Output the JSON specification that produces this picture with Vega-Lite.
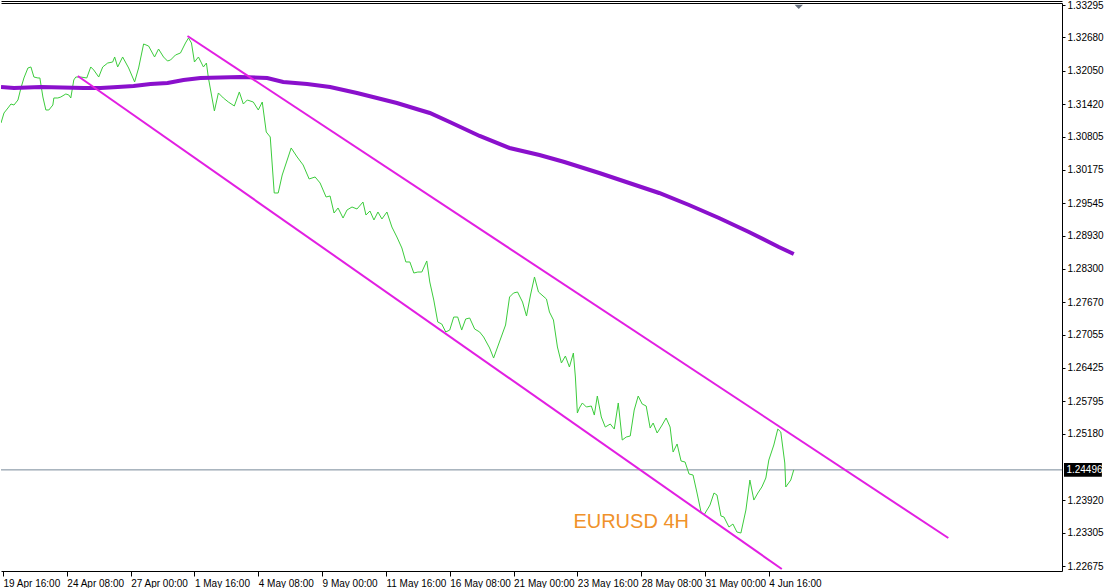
{
  "$schema": "https://vega.github.io/schema/vega-lite/v6.json",
  "width": 1104,
  "height": 588,
  "autosize": {"type": "fit", "contains": "padding"},
  "padding": {"left": 0, "top": 0, "right": 0, "bottom": 0},
  "background": "white",
  "config": {
    "view": {"stroke": null},
    "axis": {"grid": false, "domainColor": "#000000", "tickColor": "#000000", "labelColor": "#000000", "labelFont": "Liberation Sans", "labelFontSize": 10, "domainWidth": 1, "tickWidth": 1, "labelOverlap": false}
  },
  "datasets": {
    "price": [
      {"bar":-0.5,"price":1.31062},{"bar":0.25,"price":1.31251},{"bar":1.25,"price":1.31346},{"bar":2,"price":1.31421},{"bar":2.75,"price":1.31402},{"bar":3.75,"price":1.31497},{"bar":4.5,"price":1.31724},{"bar":5.25,"price":1.31914},{"bar":6.25,"price":1.32103},{"bar":7,"price":1.32122},{"bar":7.75,"price":1.31932},{"bar":8.75,"price":1.31914},{"bar":9.25,"price":1.31914},{"bar":10,"price":1.31554},{"bar":10.75,"price":1.31308},{"bar":11.5,"price":1.31308},{"bar":12.5,"price":1.31402},{"bar":12.75,"price":1.31535},{"bar":13.75,"price":1.31535},{"bar":14.5,"price":1.31554},{"bar":15.75,"price":1.31611},{"bar":16.5,"price":1.31592},{"bar":17,"price":1.31535},{"bar":17.75,"price":1.31876},{"bar":18.25,"price":1.31932},{"bar":19.5,"price":1.31932},{"bar":21,"price":1.31914},{"bar":22,"price":1.32122},{"bar":22.75,"price":1.32065},{"bar":24,"price":1.31932},{"bar":25,"price":1.32122},{"bar":26.25,"price":1.32197},{"bar":27.5,"price":1.32216},{"bar":28,"price":1.32311},{"bar":28.75,"price":1.32122},{"bar":30,"price":1.32311},{"bar":31.5,"price":1.32103},{"bar":33,"price":1.31838},{"bar":34,"price":1.32103},{"bar":35.25,"price":1.32557},{"bar":36.5,"price":1.32519},{"bar":38,"price":1.32311},{"bar":39,"price":1.32462},{"bar":40.25,"price":1.32311},{"bar":41.25,"price":1.32235},{"bar":42,"price":1.32254},{"bar":43.25,"price":1.32349},{"bar":44.5,"price":1.32387},{"bar":45.75,"price":1.32576},{"bar":46.5,"price":1.32671},{"bar":47.25,"price":1.32576},{"bar":48,"price":1.32216},{"bar":49,"price":1.32311},{"bar":50.25,"price":1.32122},{"bar":51,"price":1.32197},{"bar":51.5,"price":1.31914},{"bar":53,"price":1.31289},{"bar":54,"price":1.3163},{"bar":55.25,"price":1.31535},{"bar":56.5,"price":1.31459},{"bar":58,"price":1.31384},{"bar":59.25,"price":1.31649},{"bar":60.25,"price":1.31421},{"bar":61.25,"price":1.31497},{"bar":62.75,"price":1.31459},{"bar":64,"price":1.31308},{"bar":65,"price":1.31459},{"bar":66,"price":1.30891},{"bar":67,"price":1.30797},{"bar":68,"price":1.29737},{"bar":69,"price":1.29737},{"bar":70,"price":1.30077},{"bar":72.25,"price":1.30589},{"bar":73.75,"price":1.30418},{"bar":75.25,"price":1.30267},{"bar":76.75,"price":1.30002},{"bar":78.25,"price":1.3004},{"bar":79.5,"price":1.29926},{"bar":81,"price":1.29661},{"bar":82,"price":1.2968},{"bar":83,"price":1.29358},{"bar":84,"price":1.29453},{"bar":85.25,"price":1.29263},{"bar":86.25,"price":1.29415},{"bar":87.5,"price":1.29472},{"bar":88.75,"price":1.29434},{"bar":90.25,"price":1.29566},{"bar":91,"price":1.2932},{"bar":92,"price":1.29396},{"bar":93,"price":1.29226},{"bar":94,"price":1.29377},{"bar":95,"price":1.29245},{"bar":96.25,"price":1.29377},{"bar":97.5,"price":1.29093},{"bar":98.75,"price":1.28904},{"bar":100,"price":1.28696},{"bar":101,"price":1.28431},{"bar":102,"price":1.28431},{"bar":103,"price":1.28222},{"bar":104,"price":1.28241},{"bar":105,"price":1.28241},{"bar":106.25,"price":1.2845},{"bar":107,"price":1.28052},{"bar":108,"price":1.27711},{"bar":109,"price":1.27295},{"bar":110,"price":1.27257},{"bar":111,"price":1.27106},{"bar":112,"price":1.27143},{"bar":113,"price":1.27389},{"bar":114,"price":1.27389},{"bar":115,"price":1.27143},{"bar":116,"price":1.27352},{"bar":117,"price":1.27371},{"bar":118.25,"price":1.27162},{"bar":119.5,"price":1.27106},{"bar":120.5,"price":1.27011},{"bar":122,"price":1.26803},{"bar":123,"price":1.26613},{"bar":124,"price":1.26822},{"bar":126,"price":1.27238},{"bar":127,"price":1.27768},{"bar":128,"price":1.27844},{"bar":129,"price":1.27863},{"bar":130.25,"price":1.27673},{"bar":131.25,"price":1.27408},{"bar":132.25,"price":1.27806},{"bar":133.25,"price":1.28147},{"bar":134.25,"price":1.27863},{"bar":136.25,"price":1.2773},{"bar":137,"price":1.27484},{"bar":138,"price":1.27333},{"bar":139,"price":1.26822},{"bar":140,"price":1.26519},{"bar":141,"price":1.26651},{"bar":142,"price":1.26443},{"bar":143,"price":1.26708},{"bar":143.5,"price":1.26254},{"bar":144,"price":1.25572},{"bar":144.5,"price":1.25667},{"bar":145.25,"price":1.25762},{"bar":146.25,"price":1.25686},{"bar":147.5,"price":1.25705},{"bar":148.25,"price":1.25534},{"bar":149,"price":1.25894},{"bar":150,"price":1.25497},{"bar":151,"price":1.25307},{"bar":152.25,"price":1.25364},{"bar":153.25,"price":1.25269},{"bar":154.25,"price":1.25762},{"bar":155.25,"price":1.25061},{"bar":156.25,"price":1.25118},{"bar":157.25,"price":1.25137},{"bar":158.25,"price":1.25629},{"bar":159.25,"price":1.25894},{"bar":160.25,"price":1.25743},{"bar":161.25,"price":1.25705},{"bar":162.25,"price":1.25288},{"bar":163,"price":1.25383},{"bar":164,"price":1.25194},{"bar":165.25,"price":1.25345},{"bar":166.25,"price":1.25478},{"bar":167.25,"price":1.25307},{"bar":168,"price":1.24834},{"bar":169,"price":1.24986},{"bar":170,"price":1.24664},{"bar":171,"price":1.24645},{"bar":172,"price":1.24418},{"bar":173,"price":1.24399},{"bar":174,"price":1.24058},{"bar":175,"price":1.23698},{"bar":175.75,"price":1.23642},{"bar":177.25,"price":1.23831},{"bar":178.25,"price":1.24058},{"bar":179,"price":1.2402},{"bar":180,"price":1.23623},{"bar":180.75,"price":1.23604},{"bar":182,"price":1.23414},{"bar":183,"price":1.23471},{"bar":184,"price":1.2332},{"bar":185,"price":1.23301},{"bar":186.25,"price":1.23736},{"bar":187.25,"price":1.24304},{"bar":188.25,"price":1.23925},{"bar":189.25,"price":1.24058},{"bar":190.25,"price":1.24172},{"bar":191.25,"price":1.24342},{"bar":192,"price":1.24683},{"bar":193.25,"price":1.24967},{"bar":194.25,"price":1.25269},{"bar":195,"price":1.25213},{"bar":196,"price":1.24626},{"bar":196.25,"price":1.24172},{"bar":197.5,"price":1.24304},{"bar":198.25,"price":1.24496}
    ],
    "ma": [
      {"bar":-0.5,"ma":1.31743},{"bar":2.75,"ma":1.31724},{"bar":9.5,"ma":1.31743},{"bar":20.25,"ma":1.31724},{"bar":24.5,"ma":1.31724},{"bar":28.75,"ma":1.31743},{"bar":32.75,"ma":1.31762},{"bar":37,"ma":1.318},{"bar":41.25,"ma":1.31819},{"bar":45.25,"ma":1.31876},{"bar":49.5,"ma":1.31914},{"bar":59.5,"ma":1.31932},{"bar":66.25,"ma":1.31914},{"bar":70.25,"ma":1.31838},{"bar":76.25,"ma":1.318},{"bar":82,"ma":1.31743},{"bar":88.75,"ma":1.3163},{"bar":93.75,"ma":1.31535},{"bar":98.75,"ma":1.3144},{"bar":104.5,"ma":1.31308},{"bar":107,"ma":1.31251},{"bar":112,"ma":1.31081},{"bar":119.5,"ma":1.30816},{"bar":127,"ma":1.30589},{"bar":134.5,"ma":1.30456},{"bar":140.75,"ma":1.30324},{"bar":149.5,"ma":1.30115},{"bar":157,"ma":1.29926},{"bar":164.5,"ma":1.29737},{"bar":172,"ma":1.2951},{"bar":179.5,"ma":1.29263},{"bar":187,"ma":1.28998},{"bar":194.5,"ma":1.28715},{"bar":198.25,"ma":1.28582}
    ],
    "channel": [
      {"line":"upper","bar":46.25,"price":1.32709},{"line":"upper","bar":237,"price":1.23206},
      {"line":"lower","bar":18.75,"price":1.31951},{"line":"lower","bar":195.25,"price":1.22619}
    ],
    "current": [{"price":1.24496}],
    "caption": [{"label":"EURUSD 4H","bar":143,"price":1.23395}]
  },
  "layer": [
    {
      "data": {"name": "current"},
      "mark": {"type": "rule", "color": "#778899", "strokeWidth": 1},
      "encoding": {
        "y": {"field": "price", "type": "quantitative", "title": null,
          "scale": {"domain": [1.22582, 1.33333], "nice": false, "zero": false}}
      }
    },
    {
      "data": {"name": "price"},
      "mark": {"type": "line", "color": "#3ccc3c", "strokeWidth": 1, "clip": true},
      "encoding": {
        "x": {"field": "bar", "type": "quantitative", "title": null,
          "scale": {"domain": [-0.5, 265.5], "nice": false, "zero": false},
          "axis": {"orient": "bottom", "values": [0,16,32,48,64,80,96,112,128,144,160,176,192], "tickCount": 40, "labelExpr": "['19 Apr 16:00','24 Apr 08:00','27 Apr 00:00','1 May 16:00','4 May 08:00','9 May 00:00','11 May 16:00','16 May 08:00','21 May 00:00','23 May 16:00','28 May 08:00','31 May 00:00','4 Jun 16:00'][round(datum.value/16)]", "tickSize": 5, "labelAlign": "left", "labelBaseline": "top", "labelPadding": 2, "labelDx": 1, "labelFlush": false, "labelOverlap": false}},
        "y": {"field": "price", "type": "quantitative", "title": null,
          "scale": {"domain": [1.22582, 1.33333], "nice": false, "zero": false},
          "axis": {"orient": "right", "values": [1.33295,1.3268,1.3205,1.3142,1.30805,1.30175,1.29545,1.2893,1.283,1.2767,1.27055,1.26425,1.25795,1.2518,1.2392,1.23305,1.22675], "tickCount": 40, "format": ".5f", "tickSize": 3, "labelPadding": 2, "labelBaseline": "middle", "labelOverlap": false, "labelFlush": false, "grid": false}}
      }
    },
    {
      "data": {"name": "ma"},
      "mark": {"type": "line", "color": "#8a10cc", "strokeWidth": 4, "clip": true},
      "encoding": {
        "x": {"field": "bar", "type": "quantitative", "title": null,
          "scale": {"domain": [-0.5, 265.5], "nice": false, "zero": false},
          "axis": {"orient": "top", "labels": false, "ticks": false, "domain": true}},
        "y": {"field": "ma", "type": "quantitative", "title": null,
          "scale": {"domain": [1.22582, 1.33333], "nice": false, "zero": false}}
      }
    },
    {
      "data": {"name": "channel"},
      "mark": {"type": "line", "color": "#e21fe2", "strokeWidth": 2, "clip": true},
      "encoding": {
        "detail": {"field": "line", "type": "nominal"},
        "x": {"field": "bar", "type": "quantitative", "title": null,
          "scale": {"domain": [-0.5, 265.5], "nice": false, "zero": false},
          "axis": {"orient": "top", "labels": false, "ticks": false, "domain": true, "offset": 2}},
        "y": {"field": "price", "type": "quantitative", "title": null,
          "scale": {"domain": [1.22582, 1.33333], "nice": false, "zero": false}}
      }
    },
    {
      "data": {"name": "caption"},
      "mark": {"type": "text", "align": "left", "baseline": "alphabetic", "font": "Liberation Sans", "fontSize": 20, "color": "#f0922a"},
      "encoding": {
        "x": {"field": "bar", "type": "quantitative", "scale": {"domain": [-0.5, 265.5], "nice": false, "zero": false}, "axis": null},
        "y": {"field": "price", "type": "quantitative", "title": null, "scale": {"domain": [1.22582, 1.33333], "nice": false, "zero": false}},
        "text": {"field": "label"}
      }
    },
    {
      "data": {"name": "current"},
      "mark": {"type": "rect", "color": "#000000", "clip": false},
      "encoding": {
        "x": {"datum": 266, "type": "quantitative", "scale": {"domain": [-0.5, 265.5], "nice": false, "zero": false}, "axis": null},
        "x2": {"datum": 275.5},
        "y": {"datum": 1.24364, "type": "quantitative", "title": null, "scale": {"domain": [1.22582, 1.33333], "nice": false, "zero": false}},
        "y2": {"datum": 1.24628}
      }
    },
    {
      "data": {"name": "current"},
      "mark": {"type": "text", "align": "left", "baseline": "middle", "font": "Liberation Sans", "fontSize": 10, "color": "#ffffff", "clip": false},
      "encoding": {
        "x": {"datum": 266.6, "type": "quantitative", "scale": {"domain": [-0.5, 265.5], "nice": false, "zero": false}, "axis": null},
        "y": {"field": "price", "type": "quantitative", "title": null, "scale": {"domain": [1.22582, 1.33333], "nice": false, "zero": false}},
        "text": {"field": "price", "format": ".5f"}
      }
    },
    {
      "data": {"name": "current"},
      "mark": {"type": "point", "shape": "M-1,-0.5L1,-0.5L0,0.5Z", "filled": true, "color": "#66707e", "opacity": 1, "size": 70, "clip": false},
      "encoding": {
        "x": {"datum": 199.5, "type": "quantitative", "scale": {"domain": [-0.5, 265.5], "nice": false, "zero": false}, "axis": null},
        "y": {"datum": 1.3326, "type": "quantitative", "title": null, "scale": {"domain": [1.22582, 1.33333], "nice": false, "zero": false}}
      }
    }
  ],
  "resolve": {"axis": {"x": "independent", "y": "shared"}}
}
